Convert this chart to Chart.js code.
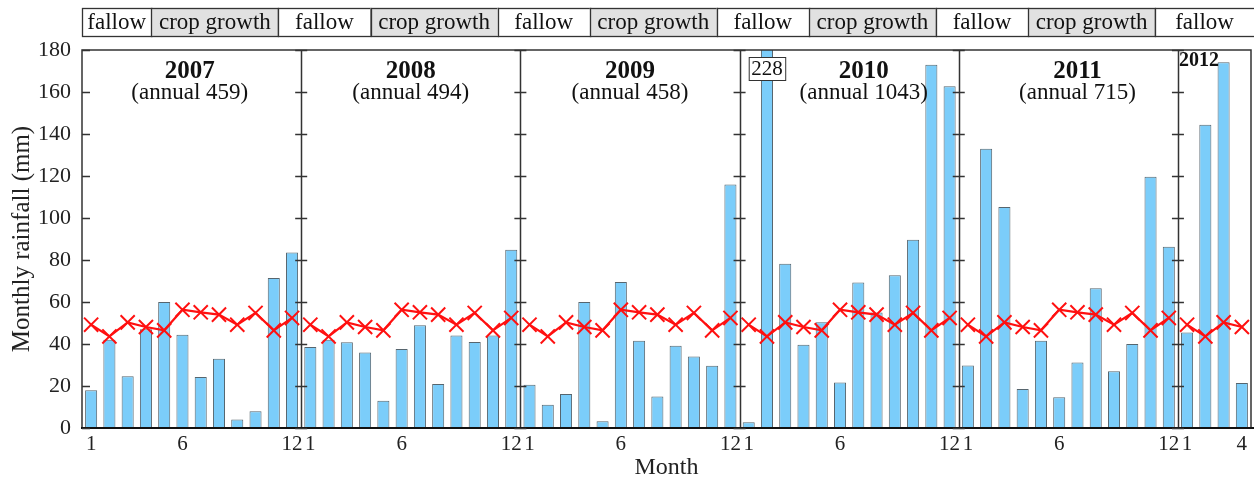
<!DOCTYPE html>
<html>
<head>
<meta charset="utf-8">
<script src="https://cdn.jsdelivr.net/npm/chart.js@4.4.0/dist/chart.umd.min.js"></script>
<style>
  html, body { margin: 0; padding: 0; background: #fff; }
  canvas { display: block; }
</style>
</head>
<body>
<canvas id="rain" width="1254" height="482"></canvas>
<script>
// Monthly rainfall (mm), January 2007 – April 2012
const years = ['2007', '2008', '2009', '2010', '2011', '2012'];
const annualTotals = [459, 494, 458, 1043, 715, null];
const rain2007 = [18, 42, 24.6, 47, 60, 44.4, 24.3, 33, 4, 8, 71.4, 83.6];
const rain2008 = [38.6, 42, 40.8, 36, 13, 37.6, 48.9, 21, 44.1, 40.9, 44.1, 84.9];
const rain2009 = [20.6, 11.1, 16.2, 60, 3.2, 69.5, 41.6, 15, 39.2, 34.1, 29.7, 115.9];
const rain2010 = [2.7, 228, 78.2, 39.7, 50.3, 21.7, 69.3, 55, 72.7, 89.7, 173, 162.7];
const rain2011 = [29.8, 133, 105.2, 18.6, 41.6, 14.6, 31.2, 66.5, 27, 40, 119.7, 86.3];
const rain2012 = [45.5, 144.4, 174.2, 21.4];
// long-term mean rainfall for each calendar month
const meanMonthly = [49.2, 43.6, 50.3, 48.1, 46.5, 56.3, 55.1, 54, 49.2, 54.8, 46.5, 52.4];
// month numbers that carry a tick label
const tickMonthsFull = [1, 6, 12];
const tickMonthsPartial = [1, 4];
// crop growing season inside each year (months after mid-January)
const cropSeasonStart = 3.8;
const cropSeasonEnd = 10.75;
const phaseNames = ['fallow', 'crop growth'];

const yearlyRain = [rain2007, rain2008, rain2009, rain2010, rain2011, rain2012];
const yMax = 180;

// flatten into one monthly series
const labels = [], monthNo = [], yearNo = [], rainfall = [], meanLine = [], yearStart = [];
yearlyRain.forEach((arr, yi) => {
  yearStart.push(labels.length);
  arr.forEach((v, mi) => {
    labels.push(years[yi] + '-' + (mi + 1));
    monthNo.push(mi + 1);
    yearNo.push(yi);
    rainfall.push(v);
    meanLine.push(meanMonthly[mi]);
  });
});
const lastYear = years.length - 1;

const SERIF = '"Liberation Serif", "Times New Roman", serif';
const INK = '#222';

// layout of the year captions (category units)
const titleCentre = [5.4, 17.5, 29.5, 42.3, 54.0];

const panelPlugin = {
  id: 'panels',
  afterDatasetsDraw(chart) {
    const { ctx, chartArea: a, scales: { x, y } } = chart;
    ctx.save();

    // panel frames
    ctx.strokeStyle = '#333';
    ctx.lineWidth = 1.5;
    ctx.beginPath();
    ctx.moveTo(a.left, a.bottom); ctx.lineTo(a.left, a.top); ctx.lineTo(a.right, a.top);
    ctx.lineTo(a.right, a.bottom);
    yearStart.slice(1).forEach(s => {
      const px = Math.round(x.getPixelForValue(s - 0.5)) + 0.5;
      ctx.moveTo(px, a.top); ctx.lineTo(px, a.bottom);
    });
    ctx.stroke();
    ctx.lineWidth = 2.2;
    ctx.strokeStyle = '#111';
    ctx.beginPath();
    ctx.moveTo(a.left - 1, a.bottom); ctx.lineTo(chart.width, a.bottom);
    ctx.stroke();

    // inward tick marks on the value axis and across each divider
    ctx.lineWidth = 1.3;
    ctx.strokeStyle = '#333';
    ctx.beginPath();
    y.ticks.forEach(t => {
      const py = Math.round(y.getPixelForValue(t.value)) + 0.5;
      ctx.moveTo(a.left, py); ctx.lineTo(a.left + 8, py);
      yearStart.slice(1).forEach(s => {
        const px = x.getPixelForValue(s - 0.5);
        ctx.moveTo(px - 6, py); ctx.lineTo(px + 6, py);
      });
    });
    ctx.stroke();

    // year captions
    ctx.fillStyle = '#111';
    ctx.textAlign = 'center';
    ctx.textBaseline = 'middle';
    titleCentre.forEach((c, i) => {
      const px = x.getPixelForValue(c);
      ctx.font = 'bold 25px ' + SERIF;
      ctx.fillText(years[i], px, 72);
      ctx.font = '23px ' + SERIF;
      ctx.fillText('(annual ' + annualTotals[i] + ')', px, 93);
    });
    ctx.font = 'bold 20px ' + SERIF;
    ctx.textAlign = 'left';
    ctx.fillText(years[lastYear], x.getPixelForValue(yearStart[lastYear] - 0.5) + 1, 61);

    // value label for bars that run past the top of the axis
    rainfall.forEach((v, i) => {
      if (v <= yMax) return;
      const px = x.getPixelForValue(i);
      const txt = String(v);
      ctx.font = '21px ' + SERIF;
      const w = ctx.measureText(txt).width + 5;
      ctx.fillStyle = '#fff';
      ctx.fillRect(px - w / 2, 57, w, 23);
      ctx.strokeStyle = '#333';
      ctx.lineWidth = 1;
      ctx.strokeRect(px - w / 2 + 0.5, 57.5, w, 23);
      ctx.fillStyle = '#111';
      ctx.textAlign = 'center';
      ctx.fillText(txt, px, 69.5);
    });
    ctx.restore();
  },
  afterDraw(chart) {
    // crop-phase band above the panels
    const { ctx, scales: { x } } = chart;
    const top = 8, h = 28;
    const edges = [];
    yearStart.forEach((s, i) => {
      if (i === lastYear) return;
      edges.push(s + cropSeasonStart - 0.5, s + cropSeasonEnd - 0.5);
    });
    const xs = [x.getPixelForValue(-0.5)].concat(edges.map(e => x.getPixelForValue(e))).concat([chart.width + 2]);
    ctx.save();
    ctx.font = '23px ' + SERIF;
    ctx.textAlign = 'center';
    ctx.textBaseline = 'middle';
    for (let i = 0; i < xs.length - 1; i++) {
      const crop = i % 2 === 1;
      ctx.fillStyle = crop ? '#e1e1e1' : '#fff';
      ctx.fillRect(xs[i], top, xs[i + 1] - xs[i], h);
      ctx.strokeStyle = '#333';
      ctx.lineWidth = 1.3;
      ctx.strokeRect(Math.round(xs[i]) + 0.5, top + 0.5, xs[i + 1] - xs[i], h);
      ctx.fillStyle = '#111';
      ctx.fillText(phaseNames[crop ? 1 : 0], (xs[i] + Math.min(xs[i + 1], chart.width)) / 2, top + h / 2 + 1);
    }
    ctx.restore();
  }
};

new Chart(document.getElementById('rain'), {
  data: {
    labels,
    datasets: [
      {
        type: 'line',
        label: 'mean',
        data: meanLine,
        order: 0,
        borderColor: '#ff1010',
        borderWidth: 2.2,
        pointStyle: 'crossRot',
        pointRadius: 10,
        pointBorderWidth: 2,
        pointBorderColor: '#ff1010',
        tension: 0,
        segment: {
          borderColor: c => yearStart.includes(c.p1DataIndex) ? 'rgba(0,0,0,0)' : '#ff1010'
        }
      },
      {
        type: 'bar',
        label: 'rainfall',
        data: rainfall,
        order: 1,
        backgroundColor: '#7bcdfa',
        borderColor: '#56656e',
        borderWidth: 1,
        categoryPercentage: 1,
        barPercentage: 0.66
      }
    ]
  },
  options: {
    responsive: false,
    animation: false,
    events: [],
    layout: { autoPadding: false, padding: { top: 50, right: 3, left: 0, bottom: 0 } },
    plugins: { legend: { display: false }, tooltip: { enabled: false } },
    scales: {
      x: {
        type: 'category',
        offset: true,
        grid: { display: false, drawTicks: false },
        border: { display: false },
        ticks: {
          autoSkip: false,
          maxRotation: 0,
          minRotation: 0,
          padding: 4,
          color: INK,
          font: { family: SERIF, size: 21 },
          callback: (v, i) => {
            const set = yearNo[i] === lastYear ? tickMonthsPartial : tickMonthsFull;
            return set.includes(monthNo[i]) ? String(monthNo[i]) : '';
          }
        },
        title: {
          display: true,
          text: 'Month',
          color: INK,
          font: { family: SERIF, size: 24 },
          padding: { top: 0, bottom: 0 }
        },
        afterFit: s => { s.height = 54; s.paddingLeft = 0; s.paddingRight = 0; }
      },
      y: {
        min: 0,
        max: yMax,
        grid: { display: false, drawTicks: false },
        border: { display: false },
        ticks: {
          stepSize: 20,
          padding: 11,
          color: INK,
          font: { family: SERIF, size: 22 }
        },
        title: {
          display: true,
          text: 'Monthly rainfall (mm)',
          color: INK,
          font: { family: SERIF, size: 25 },
          padding: { top: 7, bottom: 0 }
        },
        afterFit: s => { s.width = 82; s.paddingTop = 0; s.paddingBottom = 0; }
      }
    }
  },
  plugins: [panelPlugin]
});
</script>
</body>
</html>
